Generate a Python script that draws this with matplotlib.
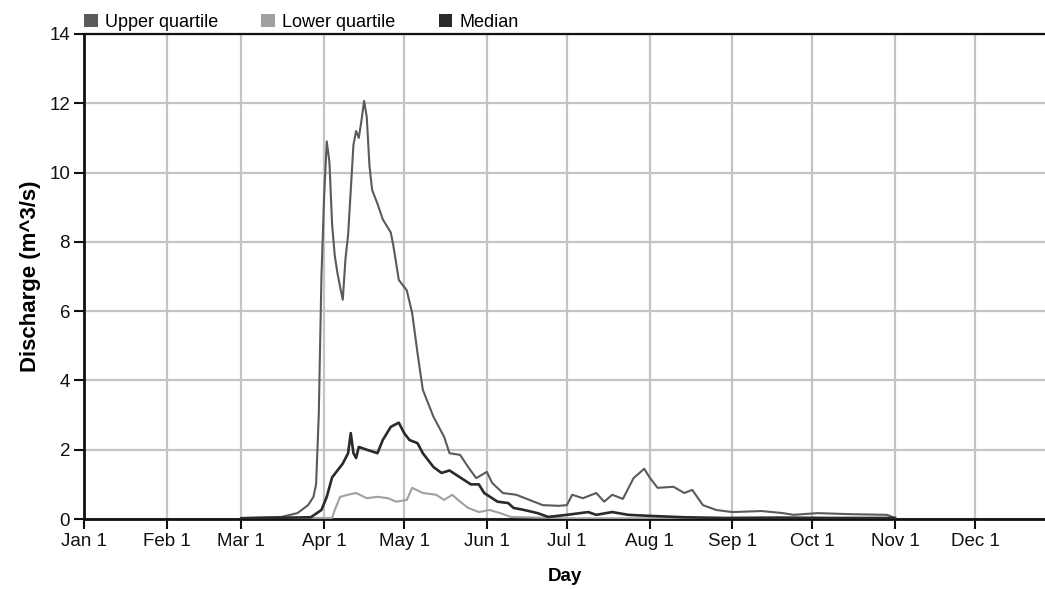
from __future__ import annotations

import matplotlib

matplotlib.use("Agg")

import matplotlib.pyplot as plt
from matplotlib.patches import Patch

# Day of year (Jan 1 = 0) and discharge in m^3/s
upper_days = [59, 74, 80, 84, 86, 87, 88, 89, 90, 91, 92, 93, 94, 95, 96, 97,
              98, 99, 100, 101, 102, 103, 104, 105, 106, 107, 108, 110, 112,
              115, 116, 118, 121, 123, 125, 127, 131, 135, 137, 141, 144, 147,
              151, 153, 157, 162, 167, 172, 178, 181, 183, 187, 192, 195, 198,
              202, 206, 210, 212, 215, 221, 225, 228, 232, 237, 243, 254, 262,
              266, 275, 287, 301, 304]
upper_values = [0.03, 0.06, 0.17, 0.4, 0.64, 1.0, 3.0, 7.0, 9.3, 10.9, 10.3,
                8.5, 7.6, 7.1, 6.7, 6.33, 7.5, 8.2, 9.5, 10.8, 11.2, 11.0,
                11.5, 12.07, 11.6, 10.2, 9.5, 9.1, 8.65, 8.27, 7.87, 6.9, 6.6,
                5.95, 4.8, 3.73, 2.95, 2.37, 1.9, 1.85, 1.5, 1.18, 1.36, 1.04,
                0.75, 0.7, 0.55, 0.4, 0.38, 0.4, 0.7, 0.6, 0.75, 0.5, 0.7, 0.58,
                1.18, 1.45, 1.2, 0.9, 0.93, 0.75, 0.84, 0.4, 0.26, 0.2, 0.23,
                0.17, 0.12, 0.17, 0.14, 0.12, 0.03]

median_days = [59, 85, 89, 91, 93, 97, 99, 100, 101, 102, 103, 106, 110, 112,
               115, 118, 120, 122, 125, 127, 131, 134, 137, 141, 145, 148, 150,
               155, 159, 161, 165, 170, 174, 181, 189, 192, 198, 204, 212, 225,
               240, 260, 280, 304]
median_values = [0.02, 0.05, 0.26, 0.64, 1.2, 1.6, 1.9, 2.48, 1.9, 1.76, 2.08,
                 2.0, 1.9, 2.28, 2.66, 2.78, 2.48, 2.28, 2.19, 1.9, 1.5, 1.33,
                 1.4, 1.2, 1.0, 1.0, 0.75, 0.5, 0.46, 0.32, 0.26, 0.17, 0.06,
                 0.12, 0.2, 0.12, 0.2, 0.12, 0.09, 0.05, 0.03, 0.04, 0.03, 0.03]

lower_days = [59, 93, 94, 96, 99, 102, 106, 110, 114, 117, 121, 123, 127, 132,
              135, 138, 141, 144, 148, 152, 156, 160, 180, 304]
lower_values = [0.02, 0.03, 0.26, 0.64, 0.7, 0.75, 0.6, 0.64, 0.6, 0.5, 0.55,
                0.9, 0.75, 0.7, 0.55, 0.7, 0.5, 0.32, 0.2, 0.26, 0.17, 0.06,
                0.02, 0.02]

month_starts = [0, 31, 59, 90, 120, 151, 181, 212, 243, 273, 304, 334]
month_labels = ["Jan 1", "Feb 1", "Mar 1", "Apr 1", "May 1", "Jun 1",
                "Jul 1", "Aug 1", "Sep 1", "Oct 1", "Nov 1", "Dec 1"]
y_ticks = [0, 2, 4, 6, 8, 10, 12, 14]

UPPER_COLOR = "#5a5a5a"
LOWER_COLOR = "#a0a0a0"
MEDIAN_COLOR = "#2a2a2a"


def plot_discharge(output_path: str) -> None:
    plt.rcParams["font.family"] = ["Liberation Sans", "DejaVu Sans"]

    fig = plt.figure(figsize=(10.45, 5.89), dpi=100)
    ax = fig.add_axes([84 / 1045, 1 - 519 / 589, 1 - 84 / 1045, 485 / 589])

    ax.plot(upper_days, upper_values, color=UPPER_COLOR, linewidth=1.5,
            zorder=3)
    ax.plot(lower_days, lower_values, color=LOWER_COLOR, linewidth=1.5,
            zorder=3)
    ax.plot(median_days, median_values, color=MEDIAN_COLOR, linewidth=1.9,
            zorder=4)

    ax.set_xlim(0, 960 / 2.665)
    ax.set_ylim(0, 14)
    ax.set_xticks(month_starts)
    ax.set_xticklabels(month_labels)
    ax.set_yticks(y_ticks)

    ax.grid(True, color="#c4c4c4", linewidth=1.6)
    ax.set_axisbelow(True)
    for side in ("left", "bottom", "top"):
        ax.spines[side].set_linewidth(2.0)
        ax.spines[side].set_color("#111111")
    ax.spines["top"].set_linewidth(1.6)
    ax.spines["right"].set_visible(False)

    ax.tick_params(axis="both", direction="out", length=7, width=1.5,
                   labelsize=13.5, colors="#111111", pad=3)

    ax.set_xlabel("Day", fontsize=13.5, fontweight="bold", labelpad=13)
    ax.set_ylabel("Discharge (m^3/s)", fontsize=16, fontweight="bold",
                  labelpad=6)

    handles = [
        Patch(facecolor=UPPER_COLOR, edgecolor="none", label="Upper quartile"),
        Patch(facecolor=LOWER_COLOR, edgecolor="none", label="Lower quartile"),
        Patch(facecolor=MEDIAN_COLOR, edgecolor="none", label="Median"),
    ]
    ax.legend(handles=handles, loc="lower left", bbox_to_anchor=(0.0, 1.007),
              ncol=3, frameon=False, fontsize=13, handlelength=0.75,
              handleheight=0.75, handletextpad=0.4, columnspacing=2.4,
              borderaxespad=0.0, borderpad=0.0)

    fig.savefig(output_path, dpi=100)
    plt.close(fig)


def main() -> None:
    plot_discharge("out.png")


if __name__ == "__main__":
    main()
